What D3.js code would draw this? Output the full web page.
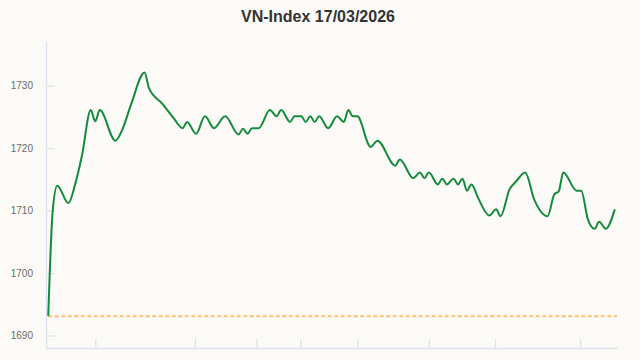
<!DOCTYPE html>
<html>
<head>
  <script src="https://d3js.org/d3.v7.min.js"></script>
  <style>
  html, body {
    margin: 0px;
    background: #fbfaf6;
    font-family: "Liberation Sans", Arial, sans-serif;
  }
  .axis path, .axis line { stroke: #dde2ee; }
  .axis text { fill: #6b6b6b; font-size: 10px; font-family: "Liberation Sans", Arial, sans-serif; }
  </style>
</head>
<body>
  <svg width="640" height="360"></svg>
  <script>

  // minutes of trading (lunch break removed) and index value
  var minutes = [1, 3, 5, 10, 13, 16, 20, 22, 24, 31, 34, 38, 44, 46, 52, 57, 61, 63, 67, 71, 75, 80,
                 86, 88, 90, 92, 95, 100, 103, 105, 109, 111, 114, 116, 118, 120, 122, 126, 130, 133, 135, 137,
                 139, 145, 148, 156, 158, 164, 167, 169, 171, 175, 177, 179, 182, 184, 186, 188, 190, 193, 198, 201,
                 203, 207, 210, 214, 218, 224, 227, 229, 231, 237, 239, 242, 245, 247, 250, 254];
  var values = [1693.1, 1710, 1714.0, 1711.2, 1714.2, 1718.7, 1726.1, 1724.3, 1726.1, 1721.2, 1722.9, 1727.0, 1732.1, 1729.6, 1727.1, 1724.8, 1723.2, 1724.2, 1722.3, 1725.1, 1723.2, 1725.1,
                1722.2, 1723.1, 1722.3, 1723.2, 1723.2, 1726.1, 1725.1, 1726.1, 1724.2, 1725.1, 1725.1, 1724.2, 1725.1, 1724.2, 1725.1, 1723.2, 1725.1, 1724.2, 1726.1, 1725.1,
                1725.1, 1720.2, 1721.2, 1717.2, 1718.2, 1715.2, 1716.1, 1715.2, 1716.1, 1714.2, 1715.1, 1714.2, 1715.1, 1714.2, 1715.1, 1713.2, 1714.2, 1712.0, 1709.2, 1710.2,
                1709.1, 1713.4, 1714.7, 1716.1, 1711.8, 1709.1, 1712.6, 1713.1, 1716.1, 1713.2, 1713.2, 1708.6, 1707.1, 1708.2, 1707.1, 1710.2];

  var refClose = 1693.1;
  var yTicks = [1690, 1700, 1710, 1720, 1730];
  var xTicks = [22, 66.5, 94, 113.5, 139, 171, 200.5, 238.5];

  var svg = d3.select("svg");

  var x = d3.scaleLinear().domain([0, 255]).range([46, 617]);
  var y = d3.scaleLinear().domain([1688, 1737]).range([348, 42]);

  svg.append("text")
    .attr("x", 318)
    .attr("y", 22)
    .attr("text-anchor", "middle")
    .style("font-size", "16px")
    .style("font-weight", "bold")
    .style("fill", "#333")
    .text("VN-Index 17/03/2026");

  svg.append("g")
    .attr("class", "axis")
    .attr("transform", "translate(46,0)")
    .call(d3.axisLeft(y).tickValues(yTicks).tickSize(-9).tickSizeOuter(0).tickPadding(13).tickFormat(d3.format("d")));

  svg.append("g")
    .attr("class", "axis")
    .attr("transform", "translate(0,348)")
    .call(d3.axisBottom(x).tickValues(xTicks).tickSize(-9).tickSizeOuter(0).tickFormat(""));

  svg.selectAll(".axis path, .axis line").attr("stroke", "#dde2ee").attr("stroke-width", 1.3);

  // reference (previous close)
  svg.append("line")
    .attr("x1", x(minutes[0])).attr("x2", x(255))
    .attr("y1", y(refClose)).attr("y2", y(refClose))
    .attr("stroke", "#ffbf70")
    .attr("stroke-width", 2)
    .attr("stroke-dasharray", "4,2.5");

  var pts = minutes.map(function(m, i) { return [m, values[i]]; });

  var line = d3.line()
    .x(function(d) { return x(d[0]); })
    .y(function(d) { return y(d[1]); })
    .curve(d3.curveMonotoneX);

  svg.append("path")
    .datum(pts)
    .attr("d", line)
    .attr("fill", "none")
    .attr("stroke", "#148a3c")
    .attr("stroke-width", 2);

  </script>
</body>
</html>
